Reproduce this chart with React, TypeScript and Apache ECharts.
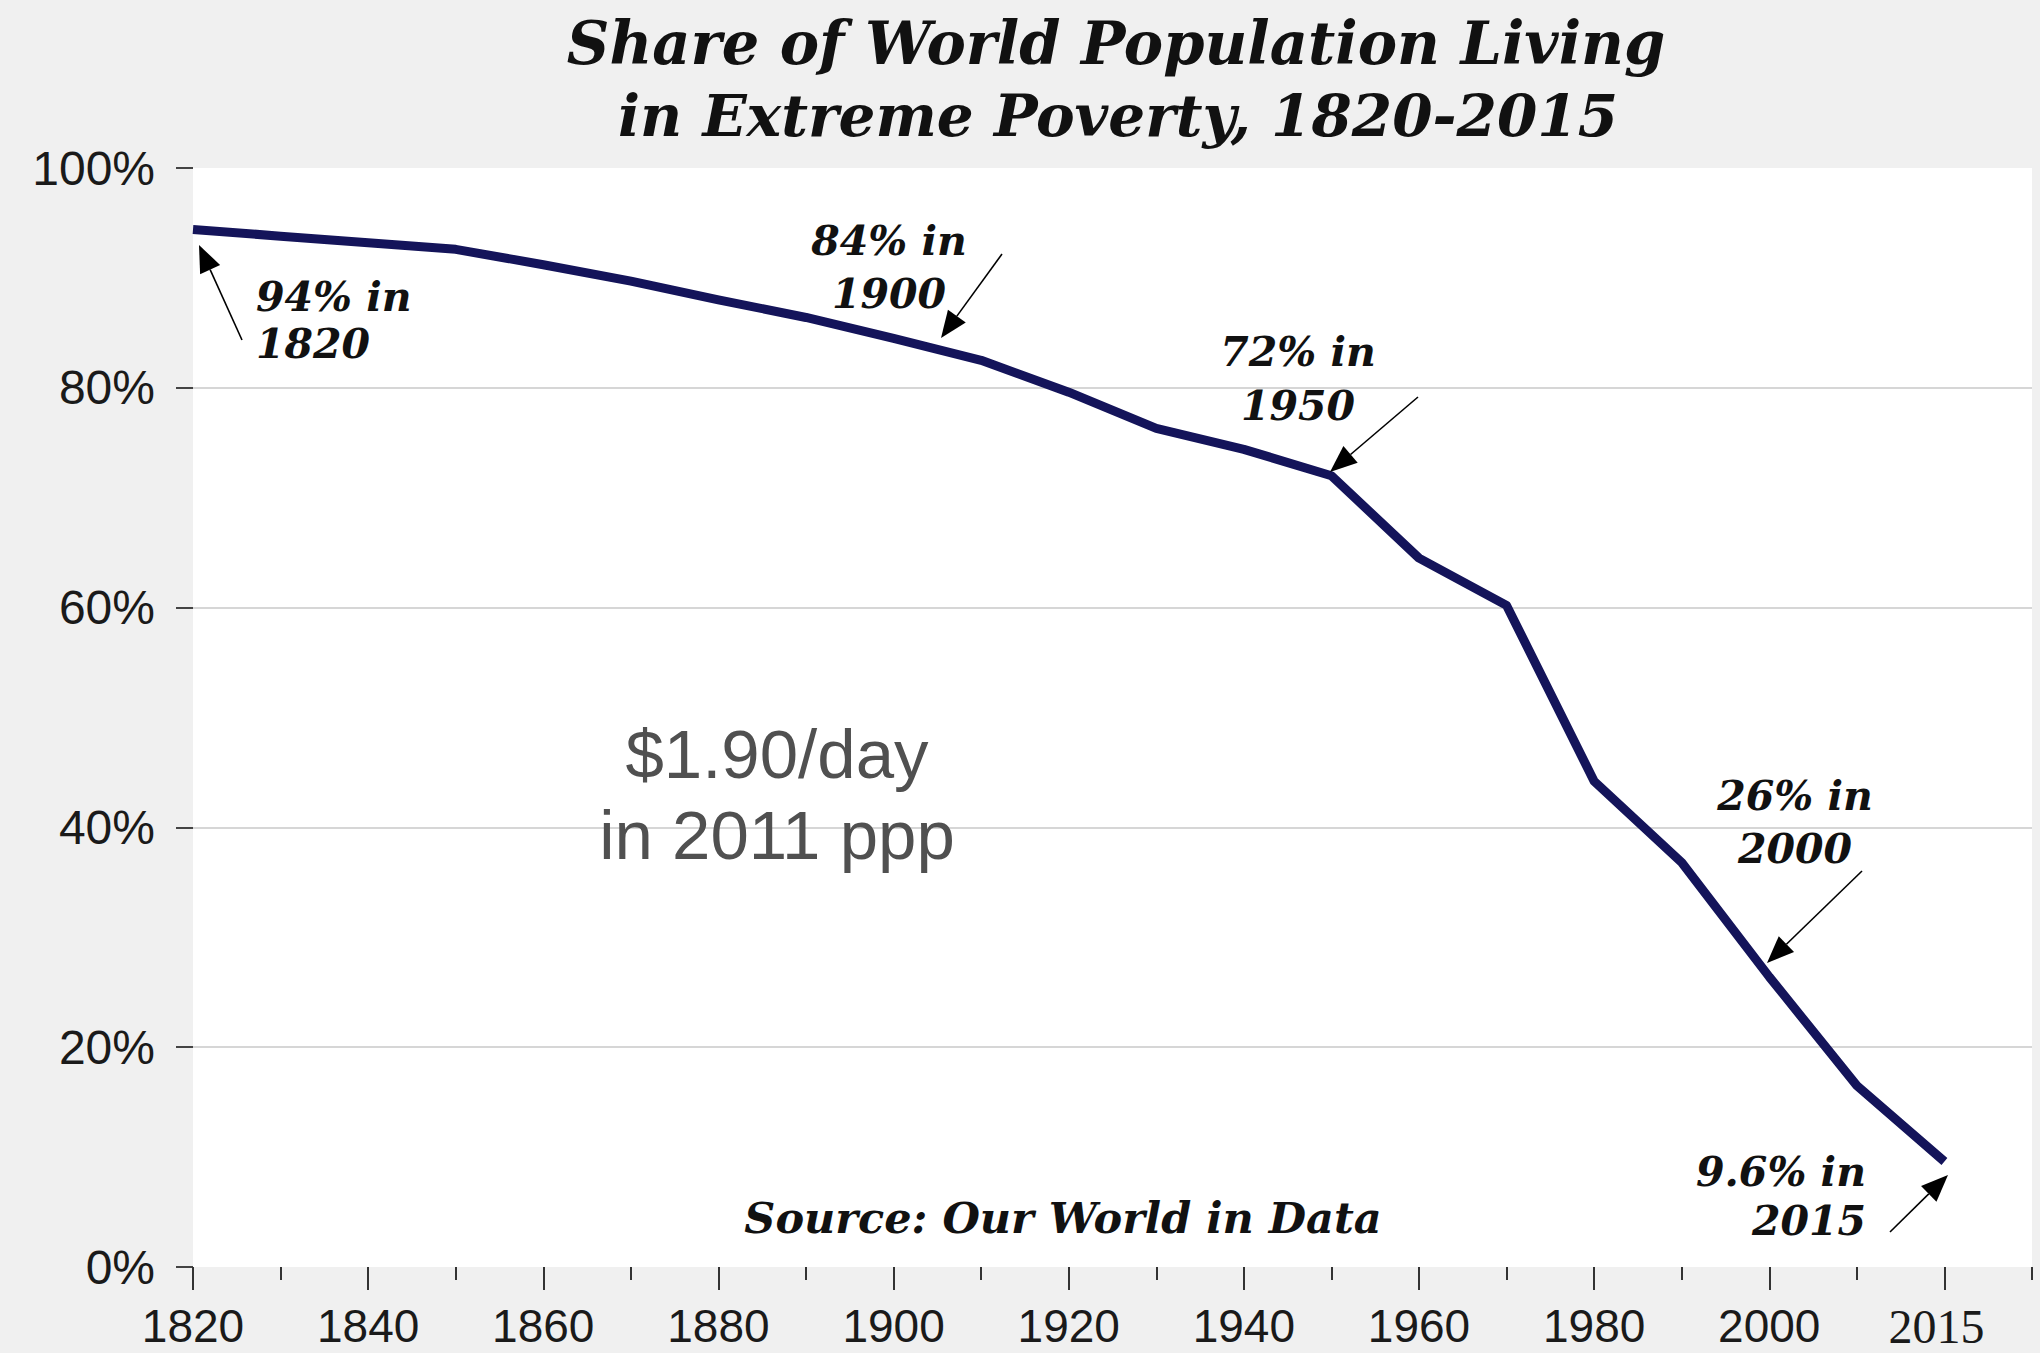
import React, { useEffect, useRef } from "react";
import * as echarts from "echarts";

// ---- data ----
const yearCategories = [
  "1820", "1830", "1840", "1850", "1860", "1870", "1880", "1890", "1900", "1910",
  "1920", "1930", "1940", "1950", "1960", "1970", "1980", "1990", "2000", "2010",
  "2015", "",
];
const povertySharePct = [
  94.4, 93.8, 93.2, 92.6, 91.2, 89.7, 88.0, 86.4, 84.5, 82.5,
  79.6, 76.3, 74.4, 72.0, 64.5, 60.2, 44.2, 36.8, 26.4, 16.5,
  9.6, null,
];
const yMin = 0;
const yMax = 100;
const yStep = 20;

const titleLines = ["Share of World Population Living", "in Extreme Poverty, 1820-2015"];
const noteLines = ["$1.90/day", "in 2011 ppp"];
const sourceText = "Source: Our World in Data";
const annotationTexts = [
  ["94% in", "1820"],
  ["84% in", "1900"],
  ["72% in", "1950"],
  ["26% in", "2000"],
  ["9.6% in", "2015"],
];

// ---- layout (pixels) ----
const W = 2040;
const H = 1353;
const annLayout = [
  { align: "left", x: 256, base: [310, 357], tail: [242, 340], tip: [199, 245] },
  { align: "center", x: 889, base: [254, 307], tail: [1002, 254], tip: [941, 338] },
  { align: "center", x: 1298, base: [365, 419], tail: [1418, 397], tip: [1330, 472] },
  { align: "center", x: 1795, base: [809, 862], tail: [1862, 871], tip: [1767, 963] },
  { align: "right", x: 1866, base: [1185, 1234], tail: [1890, 1232], tip: [1948, 1175] },
];

const SERIF = '"DejaVu Serif", Georgia, serif';
const SANS = '"Liberation Sans", Arial, sans-serif';

function arrow(tail: number[], tip: number[]) {
  const dx = tip[0] - tail[0];
  const dy = tip[1] - tail[1];
  const len = Math.sqrt(dx * dx + dy * dy);
  const ux = dx / len;
  const uy = dy / len;
  const L = 27;
  const hw = 11;
  const bx = tip[0] - ux * L;
  const by = tip[1] - uy * L;
  return [
    {
      type: "line",
      z: 100,
      shape: { x1: tail[0], y1: tail[1], x2: bx, y2: by },
      style: { stroke: "#000", lineWidth: 1.6 },
    },
    {
      type: "polygon",
      z: 100,
      shape: {
        points: [
          [tip[0], tip[1]],
          [bx - uy * hw, by + ux * hw],
          [bx + uy * hw, by - ux * hw],
        ],
      },
      style: { fill: "#000" },
    },
  ];
}

function textEl(text: string, x: number, baseline: number, size: number, align: string, family: string, weight: string, fstyle: string, color: string) {
  return {
    type: "text",
    z: 100,
    x,
    y: baseline - size * 0.31,
    style: {
      text,
      fontSize: size,
      fontFamily: family,
      fontWeight: weight,
      fontStyle: fstyle,
      fill: color,
      align,
      verticalAlign: "middle",
    },
  };
}

export default function App() {
  const ref = useRef<HTMLDivElement>(null);

  useEffect(() => {
    if (!ref.current) return;
    const chart = echarts.init(ref.current, undefined, { renderer: "svg" });

    const graphics: any[] = [];
    // title
    graphics.push(textEl(titleLines[0], 1116, 62, 59, "center", SERIF, "bold", "italic", "#111"));
    graphics.push(textEl(titleLines[1], 1118, 134, 58, "center", SERIF, "bold", "italic", "#111"));
    // note
    graphics.push(textEl(noteLines[0], 777, 776, 69, "center", SANS, "normal", "normal", "#505050"));
    graphics.push(textEl(noteLines[1], 777, 857, 69, "center", SANS, "normal", "normal", "#505050"));
    // source
    graphics.push(textEl(sourceText, 1063, 1231, 43, "center", SERIF, "bold", "italic", "#111"));
    // annotations
    annotationTexts.forEach((lines, i) => {
      const l = annLayout[i];
      lines.forEach((t, j) => {
        graphics.push(textEl(t, l.x, l.base[j], 41, l.align, SERIF, "bold", "italic", "#111"));
      });
      graphics.push(...arrow(l.tail, l.tip));
    });

    chart.setOption({
      animation: false,
      backgroundColor: "#f0f0f0",
      grid: {
        left: 193,
        right: 8,
        top: 168,
        bottom: H - 1267,
        show: true,
        backgroundColor: "#ffffff",
        borderWidth: 0,
      },
      xAxis: [
        {
          type: "category",
          data: yearCategories,
          boundaryGap: false,
          axisLine: { show: false },
          axisTick: {
            show: true,
            length: 23,
            interval: (i: number) => i % 2 === 0,
            lineStyle: { color: "#333", width: 2 },
          },
          splitLine: { show: false },
          axisLabel: {
            interval: 1,
            margin: 36,
            fontSize: 46,
            lineHeight: 46,
            fontFamily: SANS,
            color: "#1a1a1a",
            formatter: (v: string) => (v === "2015" ? `{serif|${v}}` : `{sans|${v}}`),
            rich: {
              sans: {
                fontFamily: SANS,
                fontSize: 46,
                lineHeight: 46,
                color: "#1a1a1a",
              },
              serif: {
                fontFamily: '"Liberation Serif", "Times New Roman", serif',
                fontSize: 48,
                lineHeight: 46,
                color: "#1a1a1a",
                padding: [0, 16, 0, 0],
              },
            },
          },
        },
        {
          type: "category",
          data: yearCategories,
          boundaryGap: false,
          position: "bottom",
          axisLine: { show: false },
          axisTick: {
            show: true,
            length: 13,
            interval: (i: number) => i % 2 === 1,
            lineStyle: { color: "#333", width: 2 },
          },
          axisLabel: { show: false },
          splitLine: { show: false },
        },
      ],
      yAxis: {
        type: "value",
        min: yMin,
        max: yMax,
        interval: yStep,
        axisLine: { show: false },
        axisTick: { show: true, length: 17, lineStyle: { color: "#444", width: 2 } },
        axisLabel: {
          margin: 38,
          fontSize: 48,
          fontFamily: SANS,
          color: "#1a1a1a",
          formatter: "{value}%",
        },
        splitLine: {
          show: true,
          lineStyle: {
            color: ["rgba(0,0,0,0)", "#d6d6d6", "#d6d6d6", "#d6d6d6", "#d6d6d6", "rgba(0,0,0,0)"],
            width: 2,
          },
        },
      },
      series: [
        {
          type: "line",
          data: povertySharePct,
          xAxisIndex: 0,
          symbol: "none",
          connectNulls: true,
          lineStyle: { color: "#14145a", width: 9, join: "round" },
          z: 5,
        },
      ],
      graphic: graphics,
    });

    return () => chart.dispose();
  }, []);

  return (
    <div
      ref={ref}
      style={{ position: "absolute", left: 0, top: 0, width: W, height: H }}
    />
  );
}
